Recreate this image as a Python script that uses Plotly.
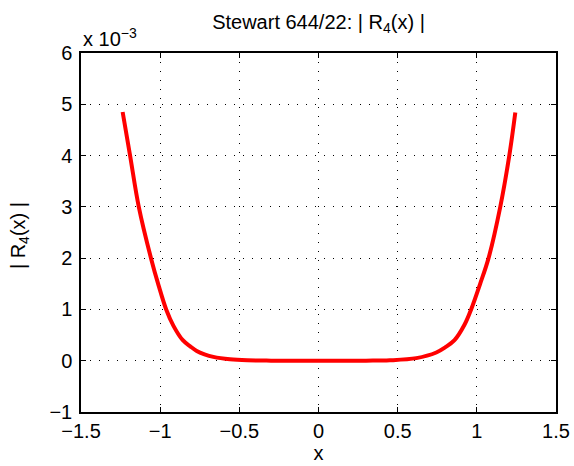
import plotly.graph_objects as go

# Data (|R4(x)| in units of 1e-3)
x_vals = [-1.237, -1.19, -1.135, -1.058, -1.01, -0.962, -0.916, -0.857, -0.81, -0.769, -0.72,
          -0.664, -0.559, -0.45, -0.3, 0.0,
          0.3, 0.45, 0.618, 0.744, 0.80, 0.859, 0.922, 0.964, 1.021, 1.074, 1.148, 1.205, 1.243]
r_vals = [4.85, 4.0, 3.0, 2.0, 1.47, 1.0, 0.68, 0.40, 0.28, 0.19, 0.125,
          0.075, 0.028, 0.008, 0.001, 0.0,
          0.001, 0.008, 0.05, 0.16, 0.26, 0.40, 0.70, 1.0, 1.5, 2.0, 3.0, 4.0, 4.84]

x_ticks = [-1.5, -1, -0.5, 0, 0.5, 1, 1.5]
x_tick_labels = ["\u22121.5", "\u22121", "\u22120.5", "0", "0.5", "1", "1.5"]
y_ticks = [-1, 0, 1, 2, 3, 4, 5, 6]
y_tick_labels = ["\u22121", "0", "1", "2", "3", "4", "5", "6"]

FONT = "Liberation Sans, Arial, Helvetica, sans-serif"

fig = go.Figure()
fig.add_trace(go.Scatter(x=x_vals, y=r_vals, mode="lines",
                         line=dict(color="#ff0000", width=4, shape="spline", smoothing=1.0),
                         showlegend=False, hoverinfo="skip"))

axis_common = dict(
    showline=True, linecolor="black", linewidth=1.5, mirror="ticks",
    ticks="inside", ticklen=5, tickcolor="black", tickwidth=1,
    showgrid=True, gridcolor="black", gridwidth=1, griddash="1px,8px",
    zeroline=False, automargin=False,
    tickfont=dict(family=FONT, size=20, color="black"),
)

fig.update_xaxes(range=[-1.5, 1.5], tickvals=x_ticks, ticktext=x_tick_labels,
                 title=dict(text="x", font=dict(family=FONT, size=20, color="black"), standoff=2),
                 **axis_common)
fig.update_yaxes(range=[-1, 6], tickvals=y_ticks, ticktext=y_tick_labels,
                 ticklabelstandoff=3, **axis_common)

plot_h = 466 - 53 - 54
fig.update_layout(
    width=574, height=466,
    margin=dict(l=81, r=18, t=53, b=54, autoexpand=False),
    plot_bgcolor="white", paper_bgcolor="white",
    font=dict(family=FONT, size=20, color="black"),
    title=dict(text="Stewart 644/22: | R<sub>4</sub>(x) |", x=(206 + 431) / 2 / 574,
               xanchor="center", y=1 - 22 / 466, yanchor="middle",
               font=dict(family=FONT, size=20, color="black")),
    annotations=[
        dict(text="| R<sub>4</sub>(x) |", textangle=-90, xref="paper", yref="paper",
             x=(19 - 81) / 475, y=0.49, xanchor="center", yanchor="middle",
             showarrow=False, font=dict(family=FONT, size=20, color="black")),
        dict(text="x 10<sup>\u22123</sup>", xref="paper", yref="paper",
             x=0.0, y=(412 - 38) / plot_h, xanchor="left", yanchor="middle",
             showarrow=False, font=dict(family=FONT, size=20, color="black")),
    ],
)

fig.write_html("out.html", config={"displayModeBar": False},
               post_script="document.body.style.margin='0px';")
